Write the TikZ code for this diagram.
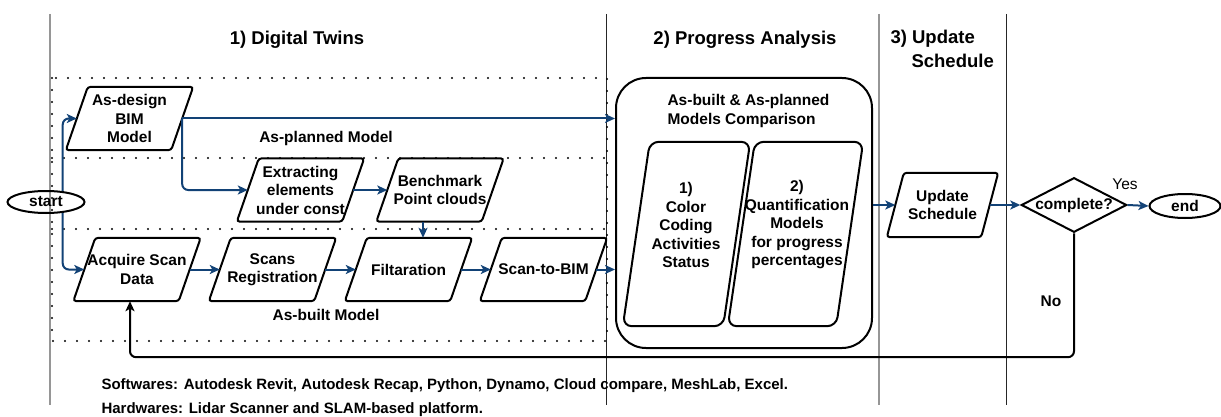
\documentclass[tikz,border=0pt]{standalone}
\usepackage{fontspec}
\setmainfont{Liberation Sans}
\usetikzlibrary{shapes.geometric,arrows.meta,calc}
\definecolor{flowblue}{RGB}{18,66,118}
\definecolor{lanegray}{RGB}{150,150,150}
% draw a right-leaning parallelogram around a rectangular node
% #1 node name, #2 half of the horizontal slant, #3 corner radius
\newcommand\drawslant[3]{%
  \draw[line width=2pt, rounded corners=#3]
    ($(#1.south west)+(-#2,0)$) -- ($(#1.north west)+(#2,0)$) --
    ($(#1.north east)+(#2,0)$) -- ($(#1.south east)+(-#2,0)$) -- cycle;}
\begin{document}
\begin{tikzpicture}[x=1pt,y=-1pt,
  nodefont/.style={font=\bfseries\fontsize{15.5}{18.5}\selectfont},
  para/.style={rectangle, minimum width=105pt, minimum height=63pt,
    inner sep=0pt, align=center, nodefont},
  term/.style={ellipse, draw, line width=2pt, inner sep=0pt, nodefont},
  flow/.style={draw=flowblue, line width=2pt, rounded corners=6pt,
    -{Stealth[length=10pt, width=9pt, inset=2.5pt]}},
  back/.style={draw=black, line width=2pt, rounded corners=6pt,
    -{Stealth[length=10pt, width=9pt, inset=2.5pt]}},
  dotline/.style={line width=2.2pt, line cap=round, dash pattern=on 0pt off 12pt},
  lanelight/.style={draw=lanegray, line width=1.6pt},
  lanedark/.style={draw=black!85, line width=1pt},
  title/.style={font=\bfseries\fontsize{18.5}{22}\selectfont},
  lbl/.style={nodefont},
  foot/.style={anchor=west, font=\bfseries\fontsize{15}{17}\selectfont}
]
\useasboundingbox (0,0) rectangle (1221,417);

% lane separators
\draw[lanelight] (50,14) -- (50,405);
\draw[lanedark] (606,14) -- (606,405);
\draw[lanelight] (879,14) -- (879,405);
\draw[lanedark] (1006,14) -- (1006,405);

% dotted group frames
\draw[dotline] (52,78) rectangle (607,341);
\draw[dotline] (52,158) -- (607,158);
\draw[dotline] (52,229) -- (607,229);

% titles
\node[title] (t1) at (297,40) {1) Digital Twins};
\node[title] (t2) at (745,40) {2) Progress Analysis};
\node[title, anchor=west] (t3a) at (887,39) {3) Update};
\node[title, anchor=west] (t3b) at (908,61) {Schedule};

% group labels
\node[lbl] (lplan) at (326,138) {As-planned Model};
\node[lbl] (lbuilt) at (326,315) {As-built Model};

% nodes
\node[term, minimum width=77pt, minimum height=22pt] (start) at (46,202) {start};
\node[para] (asdesign) at (129.5,118.5) {As-design\\BIM\\Model};
\node[para] (extract) at (300.5,190) {Extracting\\elements\\under const};
\node[para] (bench) at (440,190) {Benchmark\\Point clouds};
\node[para] (acquire) at (137,269.5) {Acquire Scan\\Data};
\node[para] (scans) at (272.5,269.5) {Scans\\Registration};
\node[para] (filt) at (408.5,269.5) {Filtaration};
\node[para] (s2b) at (543.5,269.5) {Scan-to-BIM};
\foreach \n in {asdesign,extract,bench,acquire,scans,filt,s2b}{\drawslant{\n}{11}{3pt}}

\node[draw, line width=2pt, rounded corners=30pt, minimum width=256pt,
  minimum height=270pt, inner sep=0pt] (cmp) at (744,213) {};
\node[lbl, align=left, anchor=west] (cmptitle) at (664,111) {As-built \& As-planned\\Models Comparison};
\node[rectangle, minimum width=100pt, minimum height=184pt, inner sep=0pt] (cc) at (686.5,234) {};
\node[lbl, align=center] (cctext) at (686,225) {1)\\Color\\Coding\\Activities\\Status};
\node[rectangle, minimum width=108pt, minimum height=184pt, inner sep=0pt] (qm) at (795.5,234) {};
\node[lbl, align=center] (qmtext) at (797,225) {2)\\Quantification\\Models\\for progress\\percentages};
\drawslant{cc}{13.5}{9pt}
\drawslant{qm}{13.5}{9pt}

\node[para, minimum width=94pt, minimum height=64pt] (upd) at (942.5,205) {Update\\Schedule};
\drawslant{upd}{8.5}{3pt}
\node[diamond, draw, line width=2pt, aspect=1.93, minimum width=104pt,
  minimum height=54pt, inner sep=0pt, nodefont] (dec) at (1074,205) {complete?};
\node[term, minimum width=71pt, minimum height=24pt] (end) at (1185,206) {end};

\node[font=\fontsize{15.5}{18}\selectfont] (yes) at (1125,184) {Yes};
\node[lbl] (no) at (1051,301) {No};

% connectors
\draw[flow] (start.33) |- (asdesign.west);
\draw[flow] (start.-33) |- (acquire.west);
\draw[flow] (asdesign.east) -- (asdesign.east -| cmp.west);
\draw[flow] (asdesign.east) |- (extract.west);
\draw[flow] (extract.east) -- (bench.west);
\coordinate (bdrop) at ($(bench.south)+(-17,0)$);
\draw[flow] (bdrop) -- (bdrop |- filt.north);
\draw[flow] (acquire.east) -- (scans.west);
\draw[flow] (scans.east) -- (filt.west);
\draw[flow] (filt.east) -- (s2b.west);
\draw[flow] (s2b.east) -- (s2b.east -| cmp.west);
\draw[flow] (upd.west -| cmp.east) -- (upd.west);
\draw[flow] (upd.east) -- (dec.west);
\draw[flow] (dec.east) -- (end.west);
\coordinate (fbx) at ($(acquire.south)+(-7,0)$);
\draw[back] (dec.south) |- ($(fbx)+(0,56)$) -- (fbx);

% footnotes
\node[foot] (sw) at (98,386)
  {Softwares: Autodesk Revit, Autodesk Recap, Python, Dynamo, Cloud compare, MeshLab, Excel.};
\node[foot] (hw) at (98,410)
  {Hardwares: Lidar Scanner and SLAM-based platform.};
\end{tikzpicture}
\end{document}
